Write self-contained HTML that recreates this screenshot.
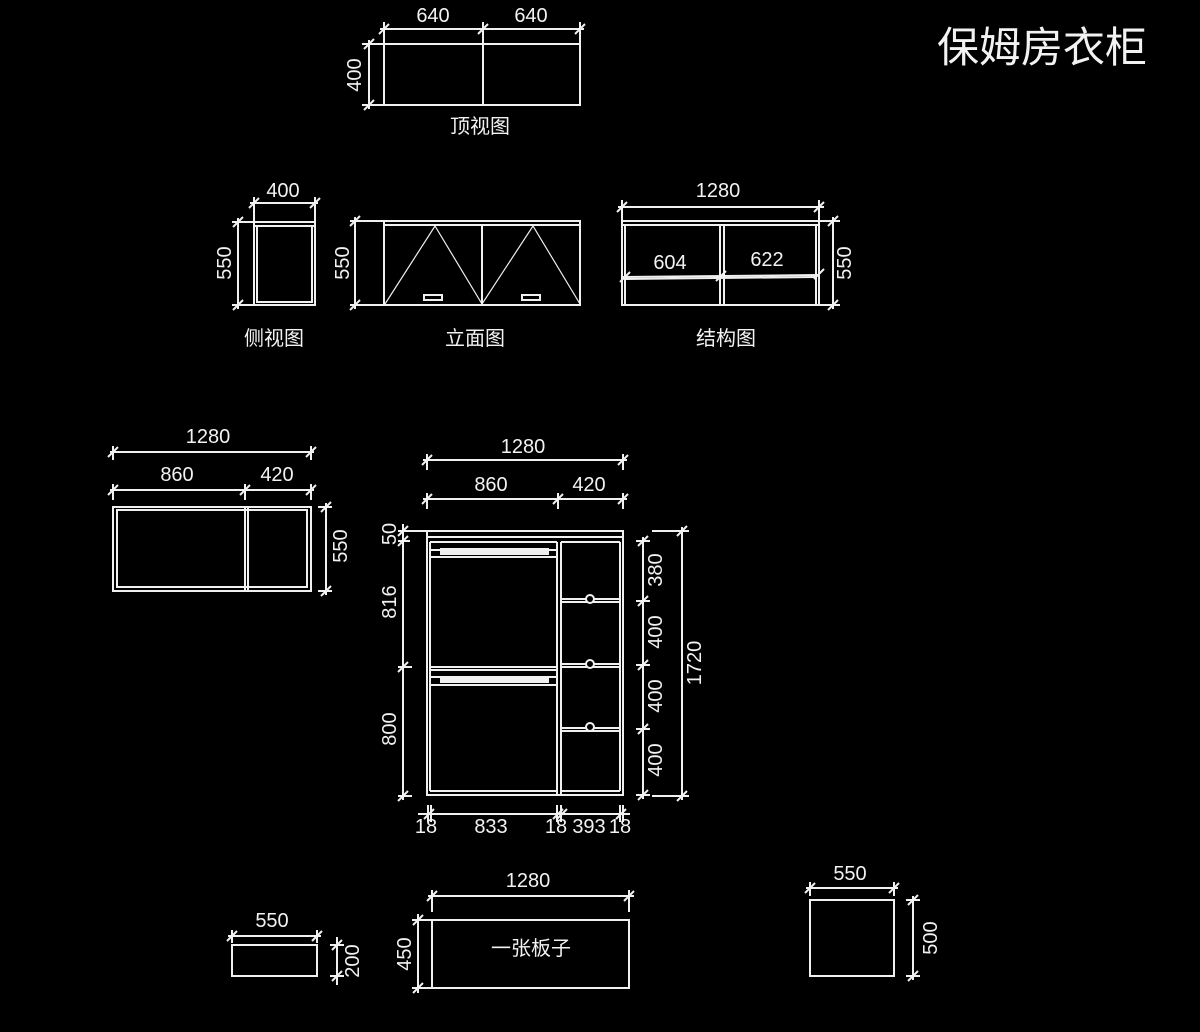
<!DOCTYPE html>
<html><head><meta charset="utf-8"><style>
html,body{margin:0;padding:0;background:#000;}
svg{display:block}
text{font-family:"Liberation Sans","Noto Sans CJK SC",sans-serif;fill:#f2f2f2;font-size:20px;font-weight:normal;}
</style></head><body>
<svg width="1200" height="1032" viewBox="0 0 1200 1032" xmlns="http://www.w3.org/2000/svg">
<rect width="1200" height="1032" fill="#000"/>
<g stroke="#f0f0f0" stroke-width="2" fill="none">
<rect x="384" y="44" width="196" height="61"/>
<line x1="483" y1="44" x2="483" y2="105"/>
<line x1="380" y1="29" x2="584" y2="29"/>
<line x1="384" y1="22" x2="384" y2="44"/><line x1="483" y1="22" x2="483" y2="44"/><line x1="580" y1="22" x2="580" y2="44"/>
<path d="M379 34L389 24M478 34L488 24M575 34L585 24"/>
<line x1="369" y1="40" x2="369" y2="109"/>
<line x1="362" y1="44" x2="384" y2="44"/><line x1="362" y1="105" x2="384" y2="105"/>
<path d="M364 49L374 39M364 110L374 100"/>

<rect x="254" y="222" width="61" height="83"/>
<line x1="254" y1="226" x2="315" y2="226"/>
<rect x="257" y="226" width="55" height="76"/>
<line x1="250" y1="203" x2="318" y2="203"/>
<line x1="254" y1="197" x2="254" y2="222"/><line x1="315" y1="197" x2="315" y2="222"/>
<path d="M249 208L259 198M310 208L320 198"/>
<line x1="238" y1="218" x2="238" y2="309"/>
<line x1="232" y1="222" x2="254" y2="222"/><line x1="232" y1="305" x2="254" y2="305"/>
<path d="M233 227L243 217M233 310L243 300"/>

<rect x="384" y="221" width="196" height="84"/>
<line x1="384" y1="225" x2="580" y2="225"/>
<line x1="482" y1="225" x2="482" y2="305"/>
<path d="M385 304L435 226L482 304L533 226L580 304" stroke-width="1.2"/>
<rect x="424" y="295" width="18" height="5"/>
<rect x="522" y="295" width="18" height="5"/>
<line x1="355" y1="217" x2="355" y2="309"/>
<line x1="350" y1="221" x2="384" y2="221"/><line x1="350" y1="305" x2="384" y2="305"/>
<path d="M350 226L360 216M350 310L360 300"/>

<rect x="622" y="221" width="197" height="84"/>
<line x1="622" y1="225" x2="819" y2="225"/>
<line x1="625" y1="225" x2="625" y2="305"/><line x1="816" y1="225" x2="816" y2="305"/>
<line x1="720" y1="225" x2="720" y2="305"/><line x1="724" y1="225" x2="724" y2="305"/>
<line x1="623" y1="277" x2="818" y2="275"/>
<line x1="625" y1="279" x2="816" y2="277"/>
<path d="M620 282L630 272M716 281L726 271M814 279L824 269"/>
<line x1="618" y1="207" x2="824" y2="207"/>
<line x1="622" y1="200" x2="622" y2="221"/><line x1="819" y1="200" x2="819" y2="221"/>
<path d="M617 212L627 202M814 212L824 202"/>
<line x1="833" y1="217" x2="833" y2="309"/>
<line x1="819" y1="221" x2="840" y2="221"/><line x1="819" y1="305" x2="840" y2="305"/>
<path d="M828 226L838 216M828 310L838 300"/>

<rect x="113" y="507" width="198" height="84"/>
<rect x="117" y="510" width="190" height="77"/>
<line x1="245" y1="507" x2="245" y2="591"/><line x1="248" y1="507" x2="248" y2="591"/>
<line x1="110" y1="452" x2="314" y2="452"/>
<line x1="113" y1="446" x2="113" y2="460"/><line x1="311" y1="446" x2="311" y2="460"/>
<path d="M108 457L118 447M306 457L316 447"/>
<line x1="110" y1="490" x2="314" y2="490"/>
<line x1="113" y1="484" x2="113" y2="500"/><line x1="245" y1="484" x2="245" y2="500"/><line x1="311" y1="484" x2="311" y2="500"/>
<path d="M108 495L118 485M240 495L250 485M306 495L316 485"/>
<line x1="326" y1="503" x2="326" y2="595"/>
<line x1="318" y1="507" x2="332" y2="507"/><line x1="318" y1="591" x2="332" y2="591"/>
<path d="M321 512L331 502M321 596L331 586"/>

<rect x="427" y="531" width="196" height="264"/>
<line x1="427" y1="537" x2="623" y2="537"/>
<line x1="430" y1="542" x2="557" y2="542"/>
<line x1="561" y1="542" x2="620" y2="542"/>
<line x1="430" y1="542" x2="430" y2="791"/>
<line x1="557" y1="542" x2="557" y2="795"/>
<line x1="561" y1="542" x2="561" y2="795"/>
<line x1="620" y1="542" x2="620" y2="791"/>
<line x1="430" y1="791" x2="557" y2="791"/>
<line x1="561" y1="791" x2="620" y2="791"/>
<rect x="430" y="550" width="127" height="7"/>
<rect x="441" y="549" width="107" height="5" fill="#f0f0f0"/>
<line x1="430" y1="667" x2="557" y2="667"/><line x1="430" y1="670" x2="557" y2="670"/>
<rect x="430" y="677" width="127" height="8"/>
<rect x="441" y="677" width="107" height="5" fill="#f0f0f0"/>
<line x1="561" y1="599" x2="620" y2="599"/><line x1="561" y1="602" x2="620" y2="602"/>
<line x1="561" y1="664" x2="620" y2="664"/><line x1="561" y1="667" x2="620" y2="667"/>
<line x1="561" y1="728" x2="620" y2="728"/><line x1="561" y1="731" x2="620" y2="731"/>
<circle cx="590" cy="599" r="4" fill="#000"/>
<circle cx="590" cy="664" r="4" fill="#000"/>
<circle cx="590" cy="727" r="4" fill="#000"/>
<line x1="423" y1="460" x2="627" y2="460"/>
<line x1="427" y1="454" x2="427" y2="470"/><line x1="623" y1="454" x2="623" y2="470"/>
<path d="M422 465L432 455M618 465L628 455"/>
<line x1="423" y1="499" x2="627" y2="499"/>
<line x1="427" y1="493" x2="427" y2="509"/><line x1="558" y1="493" x2="558" y2="509"/><line x1="623" y1="493" x2="623" y2="509"/>
<path d="M422 504L432 494M553 504L563 494M618 504L628 494"/>
<line x1="403" y1="524" x2="403" y2="800"/>
<line x1="398" y1="531" x2="427" y2="531"/>
<line x1="398" y1="541" x2="410" y2="541"/>
<line x1="398" y1="667" x2="412" y2="667"/>
<line x1="398" y1="796" x2="412" y2="796"/>
<path d="M398 536L408 526M398 546L408 536M398 672L408 662M398 801L408 791"/>
<line x1="643" y1="537" x2="643" y2="799"/>
<line x1="636" y1="541" x2="650" y2="541"/>
<line x1="636" y1="601" x2="650" y2="601"/>
<line x1="636" y1="665" x2="650" y2="665"/>
<line x1="636" y1="729" x2="650" y2="729"/>
<line x1="636" y1="795" x2="650" y2="795"/>
<path d="M638 546L648 536M638 606L648 596M638 670L648 660M638 734L648 724M638 800L648 790"/>
<line x1="682" y1="527" x2="682" y2="800"/>
<line x1="652" y1="531" x2="689" y2="531"/><line x1="652" y1="796" x2="689" y2="796"/>
<path d="M677 536L687 526M677 801L687 791"/>
<line x1="418" y1="814" x2="630" y2="814"/>
<line x1="428" y1="805" x2="428" y2="822"/><line x1="431" y1="805" x2="431" y2="822"/>
<line x1="557" y1="805" x2="557" y2="822"/><line x1="561" y1="805" x2="561" y2="822"/>
<line x1="620" y1="805" x2="620" y2="822"/><line x1="623" y1="805" x2="623" y2="822"/>
<path d="M424 819L434 809M553 819L563 809M557 819L567 809M616 819L626 809"/>

<rect x="232" y="945" width="85" height="31"/>
<line x1="228" y1="936" x2="321" y2="936"/>
<line x1="232" y1="930" x2="232" y2="943"/><line x1="317" y1="930" x2="317" y2="943"/>
<path d="M227 941L237 931M312 941L322 931"/>
<line x1="337" y1="937" x2="337" y2="985"/>
<line x1="330" y1="945" x2="344" y2="945"/><line x1="330" y1="976" x2="344" y2="976"/>
<path d="M332 950L342 940M332 981L342 971"/>

<rect x="432" y="920" width="197" height="68"/>
<line x1="428" y1="896" x2="634" y2="896"/>
<line x1="432" y1="890" x2="432" y2="912"/><line x1="629" y1="890" x2="629" y2="912"/>
<path d="M427 901L437 891M624 901L634 891"/>
<line x1="418" y1="914" x2="418" y2="993"/>
<line x1="412" y1="920" x2="432" y2="920"/><line x1="412" y1="988" x2="432" y2="988"/>
<path d="M413 925L423 915M413 993L423 983"/>

<rect x="810" y="900" width="84" height="76"/>
<line x1="806" y1="888" x2="898" y2="888"/>
<line x1="810" y1="882" x2="810" y2="896"/><line x1="894" y1="882" x2="894" y2="896"/>
<path d="M805 893L815 883M889 893L899 883"/>
<line x1="913" y1="896" x2="913" y2="980"/>
<line x1="906" y1="900" x2="920" y2="900"/><line x1="906" y1="976" x2="920" y2="976"/>
<path d="M908 905L918 895M908 981L918 971"/>
</g>

<g text-anchor="middle">
<text x="1042" y="62" style="font-size:42px">保姆房衣柜</text>
<text x="433" y="22">640</text><text x="531" y="22">640</text>
<text transform="translate(361,75) rotate(-90)">400</text>
<text x="480" y="133">顶视图</text>

<text x="283" y="197">400</text>
<text transform="translate(231,263) rotate(-90)">550</text>
<text x="274" y="345">侧视图</text>
<text transform="translate(349,263) rotate(-90)">550</text>
<text x="475" y="345">立面图</text>
<text x="718" y="197">1280</text>
<text x="670" y="269">604</text>
<text x="767" y="266">622</text>
<text transform="translate(851,263) rotate(-90)">550</text>
<text x="726" y="345">结构图</text>

<text x="208" y="443">1280</text>
<text x="177" y="481">860</text><text x="277" y="481">420</text>
<text transform="translate(347,546) rotate(-90)">550</text>

<text x="523" y="453">1280</text>
<text x="491" y="491">860</text><text x="589" y="491">420</text>
<text transform="translate(396,534) rotate(-90)">50</text>
<text transform="translate(396,602) rotate(-90)">816</text>
<text transform="translate(396,729) rotate(-90)">800</text>
<text transform="translate(662,570) rotate(-90)">380</text>
<text transform="translate(662,632) rotate(-90)">400</text>
<text transform="translate(662,696) rotate(-90)">400</text>
<text transform="translate(662,760) rotate(-90)">400</text>
<text transform="translate(701,663) rotate(-90)">1720</text>
<text x="426" y="833">18</text>
<text x="491" y="833">833</text>
<text x="556" y="833">18</text>
<text x="589" y="833">393</text>
<text x="620" y="833">18</text>

<text x="272" y="927">550</text>
<text transform="translate(359,961) rotate(-90)">200</text>
<text x="528" y="887">1280</text>
<text transform="translate(411,954) rotate(-90)">450</text>
<text x="531" y="955">一张板子</text>
<text x="850" y="880">550</text>
<text transform="translate(937,938) rotate(-90)">500</text>
</g>
</svg>
</body></html>
